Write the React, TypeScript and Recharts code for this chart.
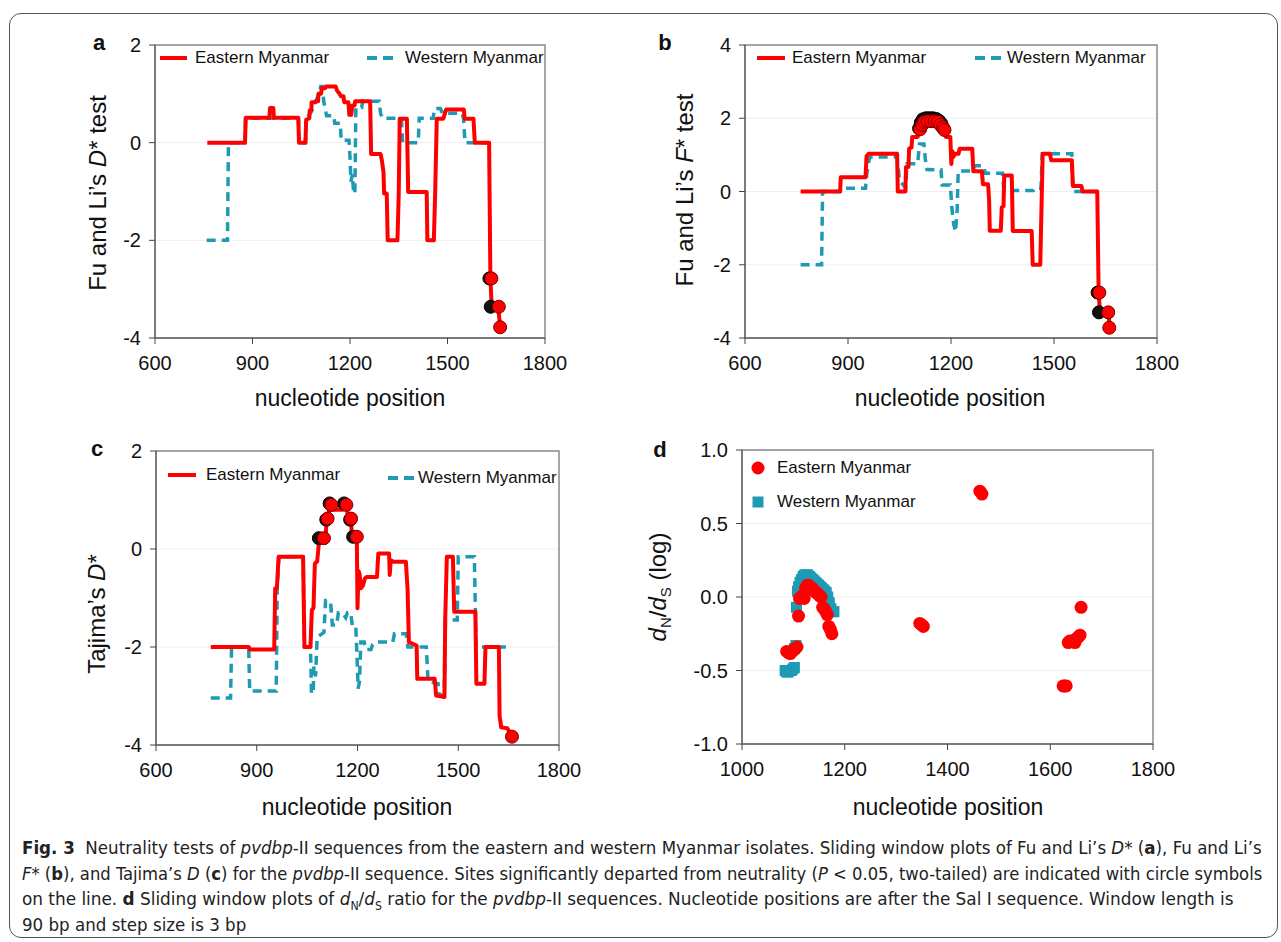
import React, { useLayoutEffect, useRef, useState } from "react";
import {
  CartesianGrid,
  ComposedChart,
  Legend,
  Line,
  ReferenceArea,
  Scatter,
  XAxis,
  YAxis,
} from "recharts";

type Pt = [number, number];

const RED = "#ff0000";
const TEAL = "#1e9bb4";
const FONT = "'Liberation Sans', Arial, sans-serif";

const seriesNames = ["Eastern Myanmar", "Western Myanmar"];
const xTicksPos = [600, 900, 1200, 1500, 1800];
const yTicksA = [-4, -2, 0, 2];
const yTicksB = [-4, -2, 0, 2, 4];
const yTicksC = [-4, -2, 0, 2];
const xTicksD = [1000, 1200, 1400, 1600, 1800];
const yTicksD = [-1, -0.5, 0, 0.5, 1];

// panel a: Fu and Li's D*
const aEast: Pt[] = [
  [761, 0], [877, 0], [879, 0.51], [952, 0.51], [954, 0.71], [964, 0.71], [966, 0.51], [1041, 0.51],
  [1043, 0], [1063, 0], [1065, 0.47], [1075, 0.5], [1076, 0.66], [1081, 0.66], [1082, 0.83], [1093, 0.83],
  [1095, 0.85], [1102, 0.85], [1103, 1.0], [1111, 1.0], [1113, 1.12], [1124, 1.12], [1126, 1.15], [1156, 1.15],
  [1160, 1.07], [1168, 1.0], [1172, 0.95], [1180, 0.95], [1182, 0.83], [1195, 0.83], [1198, 0.57], [1201, 0.68],
  [1204, 0.57], [1207, 0.76], [1214, 0.76], [1216, 0.85], [1262, 0.85], [1265, -0.23], [1294, -0.23], [1298, -0.36],
  [1303, -0.6], [1305, -1.04], [1313, -1.04], [1316, -2.0], [1346, -2.0], [1350, -1.04], [1353, 0.49], [1375, 0.49],
  [1379, -1.01], [1436, -1.01], [1438, -2.0], [1458, -2.0], [1462, -1.04], [1467, 0.49], [1487, 0.49], [1492, 0.6],
  [1496, 0.68], [1550, 0.68], [1553, 0.49], [1580, 0.49], [1584, 0], [1628, 0], [1632, -2.78], [1636, -3.36],
  [1656, -3.36], [1662, -3.78],
];
const aWest: Pt[] = [
  [759, -2], [823, -2], [826, 0], [877, 0], [879, 0.5], [1041, 0.5], [1043, 0], [1063, 0], [1065, 0.5],
  [1080, 0.62], [1094, 0.83], [1104, 1.0], [1110, 1.15], [1116, 1.15], [1119, 0.85], [1128, 0.55], [1150, 0.55],
  [1153, 0.4], [1170, 0.4], [1173, 0.05], [1197, 0.05], [1200, -0.3], [1203, -0.8], [1207, -0.65], [1211, -1.0],
  [1215, -1.05], [1218, 0.72], [1236, 0.72], [1239, 0.85], [1290, 0.85], [1294, 0.6], [1300, 0.5], [1358, 0.5],
  [1362, 0], [1410, 0], [1413, 0.5], [1456, 0.5], [1460, 0.7], [1478, 0.7], [1485, 0.6], [1545, 0.6],
  [1549, 0.5], [1554, 0], [1632, 0],
];
const aSigBlack: Pt[] = [[1629, -2.78], [1633, -3.36]];
const aSigRed: Pt[] = [[1635, -2.78], [1658, -3.36], [1662, -3.78]];

// panel b: Fu and Li's F*
const bEast: Pt[] = [
  [762, 0], [877, 0], [879, 0.39], [951, 0.39], [954, 0.96], [960, 1.03], [1043, 1.03], [1045, 0], [1067, 0],
  [1069, 0.67], [1076, 0.67], [1078, 1.17], [1085, 1.2], [1087, 1.49], [1103, 1.49], [1106, 1.63], [1112, 1.63],
  [1116, 1.8], [1122, 1.9], [1165, 1.9], [1172, 1.8], [1180, 1.63], [1185, 1.49], [1198, 1.49], [1201, 0.75],
  [1204, 1.1], [1207, 0.95], [1212, 1.03], [1222, 1.03], [1225, 1.17], [1262, 1.17], [1265, 0.55], [1290, 0.55],
  [1293, 0.2], [1308, 0.2], [1311, -0.25], [1313, -1.07], [1345, -1.07], [1348, -0.43], [1353, -0.4], [1355, 0.44],
  [1377, 0.44], [1380, -1.08], [1435, -1.08], [1438, -2.0], [1460, -2.0], [1463, -0.7], [1467, 1.03], [1488, 1.03],
  [1492, 0.85], [1552, 0.85], [1555, 0.15], [1580, 0.15], [1583, 0], [1626, 0], [1630, -2.76], [1634, -3.3],
  [1659, -3.3], [1662, -3.72],
];
const bWest: Pt[] = [
  [762, -2], [823, -2], [826, 0], [877, 0], [880, 0.09], [951, 0.09], [955, 0.5], [963, 0.94], [1043, 0.94],
  [1050, 0.3], [1068, 0.1], [1072, 0.76], [1103, 0.76], [1108, 1.3], [1121, 1.3], [1125, 0.9], [1130, 0.6],
  [1171, 0.59], [1174, 0.18], [1198, 0.18], [1203, -0.5], [1208, -0.9], [1213, -1.1], [1218, -0.5], [1221, 0.56],
  [1265, 0.56], [1268, 0.7], [1295, 0.7], [1300, 0.5], [1350, 0.5], [1354, 0.03], [1440, 0.03], [1444, 0.09],
  [1462, 0.09], [1466, 1.03], [1552, 1.03], [1555, 0], [1645, 0],
];
const bSigBlack: Pt[] = [
  [1107, 1.72], [1112, 1.88], [1118, 1.97], [1127, 2.0], [1137, 2.0], [1147, 2.0], [1157, 1.98], [1165, 1.93],
  [1172, 1.85], [1178, 1.72], [1627, -2.76], [1631, -3.3],
];
const bSigRed: Pt[] = [
  [1110, 1.7], [1116, 1.82], [1122, 1.9], [1132, 1.92], [1142, 1.92], [1152, 1.92], [1162, 1.9], [1169, 1.82],
  [1176, 1.75], [1181, 1.68], [1632, -2.76], [1658, -3.3], [1661, -3.72],
];

// panel c: Tajima's D
const cEast: Pt[] = [
  [763, -2], [876, -2], [880, -2.05], [952, -2.05], [955, -0.8], [960, -0.8], [965, -0.16], [1038, -0.16],
  [1042, -2], [1060, -2], [1064, -1.25], [1069, -1.2], [1073, -0.3], [1080, -0.25], [1086, 0.2], [1105, 0.22],
  [1108, 0.6], [1113, 0.6], [1116, 0.92], [1123, 0.92], [1126, 0.8], [1155, 0.8], [1158, 0.92], [1167, 0.92],
  [1172, 0.62], [1180, 0.6], [1184, 0.25], [1198, 0.25], [1200, -1.21], [1203, -0.45], [1206, -0.5], [1210, -0.8],
  [1216, -0.75], [1222, -0.6], [1227, -0.57], [1258, -0.57], [1262, -0.09], [1294, -0.09], [1296, -0.53],
  [1299, -0.23], [1308, -0.26], [1344, -0.26], [1349, -0.81], [1353, -1.9], [1376, -1.97], [1378, -2.65],
  [1430, -2.65], [1434, -2.99], [1459, -3.02], [1461, -1.49], [1466, -0.16], [1484, -0.16], [1488, -1.28],
  [1551, -1.28], [1554, -2.75], [1578, -2.75], [1581, -2.0], [1621, -2.0], [1623, -3.4], [1628, -3.64],
  [1646, -3.66], [1660, -3.82],
];
const cWest: Pt[] = [
  [763, -3.04], [822, -3.04], [825, -2], [876, -2], [879, -2.9], [958, -2.9], [961, -0.8], [966, -0.16],
  [1038, -0.16], [1042, -2], [1060, -2], [1063, -2.95], [1068, -2.95], [1070, -2.4], [1075, -2.6], [1080, -1.8],
  [1100, -1.7], [1105, -1.05], [1115, -1.05], [1120, -1.1], [1125, -1.55], [1138, -1.55], [1143, -1.3],
  [1155, -1.3], [1165, -1.4], [1170, -1.3], [1180, -1.3], [1185, -1.6], [1195, -1.6], [1198, -2.1], [1202, -2.85],
  [1206, -2.7], [1210, -1.9], [1220, -1.9], [1225, -2.05], [1240, -2.05], [1245, -1.95], [1255, -1.9],
  [1305, -1.9], [1310, -1.73], [1345, -1.73], [1350, -2.0], [1405, -2.0], [1410, -2.7], [1440, -2.75],
  [1443, -2.98], [1458, -2.98], [1462, -1.45], [1497, -1.45], [1500, -0.16], [1548, -0.16], [1553, -2.0],
  [1645, -2.0],
];
const cSigBlack: Pt[] = [[1085, 0.22], [1107, 0.6], [1117, 0.93], [1160, 0.93], [1178, 0.6], [1187, 0.25]];
const cSigRed: Pt[] = [[1100, 0.22], [1111, 0.62], [1122, 0.9], [1167, 0.9], [1181, 0.62], [1198, 0.25], [1660, -3.83]];

// panel d: dN/dS (log)
const dEast: Pt[] = [
  [1087, -0.37], [1091, -0.38], [1094, -0.385], [1098, -0.37], [1101, -0.36], [1104, -0.35], [1107, -0.34],
  [1110, -0.13], [1112, -0.01], [1115, 0.0], [1118, 0.01], [1121, -0.01], [1124, 0.06], [1127, 0.08],
  [1130, 0.08], [1133, 0.07], [1136, 0.06], [1139, 0.05], [1142, 0.035], [1145, 0.03], [1148, 0.02],
  [1151, 0.01], [1154, 0.0], [1157, -0.07], [1160, -0.08], [1163, -0.1], [1166, -0.12], [1169, -0.2],
  [1172, -0.22], [1175, -0.25], [1346, -0.18], [1350, -0.19], [1353, -0.2], [1463, 0.72], [1467, 0.7],
  [1625, -0.605], [1628, -0.605], [1631, -0.605], [1635, -0.31], [1638, -0.3], [1641, -0.3], [1645, -0.3],
  [1648, -0.31], [1652, -0.28], [1655, -0.27], [1658, -0.26], [1660, -0.07],
];
const dWest: Pt[] = [
  [1084, -0.5], [1087, -0.51], [1090, -0.51], [1093, -0.5], [1096, -0.5], [1099, -0.49], [1102, -0.48],
  [1102, -0.35], [1105, -0.33], [1106, -0.07], [1108, 0.04], [1110, 0.07], [1113, 0.1], [1116, 0.12],
  [1119, 0.14], [1122, 0.15], [1125, 0.15], [1128, 0.15], [1131, 0.14], [1134, 0.13], [1137, 0.12],
  [1140, 0.11], [1143, 0.1], [1146, 0.09], [1149, 0.08], [1152, 0.07], [1155, 0.06], [1158, 0.05],
  [1161, 0.04], [1164, 0.03], [1167, 0.0], [1170, -0.04], [1173, -0.08], [1176, -0.1], [1179, -0.1],
];

const toRows = (pts: Pt[]) => pts.map(([x, y]) => ({ x, y }));

const tickStyle = { fontSize: 20, fill: "#111", fontFamily: FONT };

const blackDot = (p: any) => <circle cx={p.cx} cy={p.cy} r={6.5} fill="#111" stroke="#000" strokeWidth={1} />;
const redDot = (p: any) => <circle cx={p.cx} cy={p.cy} r={6.5} fill={RED} stroke="#7a0000" strokeWidth={1} />;
const redCircle = (p: any) => <circle cx={p.cx} cy={p.cy} r={6.5} fill={RED} />;
const tealSquare = (p: any) => <rect x={p.cx - 5.5} y={p.cy - 5.5} width={11} height={11} fill={TEAL} />;

type LegendItem = { kind: "line" | "dash" | "circle" | "square"; x1: number; x2: number; y: number; tx: number; label: string };

function legendContent(items: LegendItem[], ox: number, oy: number, W: number, H: number) {
  return () => (
    <div style={{ position: "relative", width: W, height: H, fontFamily: FONT }}>
      <svg width={W} height={H} style={{ position: "absolute", left: 0, top: 0 }}>
        {items.map((it, i) =>
          it.kind === "line" ? (
            <line key={i} x1={it.x1 - ox} x2={it.x2 - ox} y1={it.y - oy} y2={it.y - oy} stroke={RED} strokeWidth={4} />
          ) : it.kind === "dash" ? (
            <line key={i} x1={it.x1 - ox} x2={it.x2 - ox} y1={it.y - oy} y2={it.y - oy} stroke={TEAL} strokeWidth={4} strokeDasharray="10 6" />
          ) : it.kind === "circle" ? (
            <circle key={i} cx={(it.x1 + it.x2) / 2 - ox} cy={it.y - oy} r={6.5} fill={RED} />
          ) : (
            <rect key={i} x={(it.x1 + it.x2) / 2 - ox - 5.5} y={it.y - oy - 5.5} width={11} height={11} fill={TEAL} />
          )
        )}
      </svg>
      {items.map((it, i) => (
        <div
          key={"t" + i}
          style={{ position: "absolute", left: it.tx - ox, top: it.y - oy - 11, fontSize: 17, lineHeight: "22px", color: "#111", whiteSpace: "nowrap" }}
        >
          {it.label}
        </div>
      ))}
    </div>
  );
}

type PanelProps = {
  left: number; top: number; plotW: number; plotH: number;
  xDomain: [number, number]; xTicks: number[];
  yDomain: [number, number]; yTicks: number[];
  yFmt?: (v: number) => string;
  lines?: { east: Pt[]; west: Pt[] };
  sigBlack?: Pt[]; sigRed?: Pt[];
  scatter?: { east: Pt[]; west: Pt[] };
  legend: LegendItem[];
};

function Panel(p: PanelProps) {
  const W = 80 + p.plotW + 34;
  const H = 15 + p.plotH + 50;
  const ox = p.left - 80;
  const oy = p.top - 15;
  return (
    <div style={{ position: "absolute", left: ox, top: oy }}>
      <ComposedChart width={W} height={H} margin={{ top: 15, right: 34, bottom: 0, left: 0 }}>
        <CartesianGrid vertical={false} stroke="#efefef" />
        <XAxis
          type="number" dataKey="x" domain={p.xDomain} ticks={p.xTicks} allowDataOverflow
          tick={tickStyle} tickSize={6} tickMargin={12} height={50}
          axisLine={{ stroke: "#6e6e6e", strokeWidth: 1.5 }} tickLine={{ stroke: "#444" }}
        />
        <YAxis
          type="number" domain={p.yDomain} ticks={p.yTicks} allowDataOverflow width={80}
          tick={tickStyle} tickSize={6} tickMargin={8} tickFormatter={p.yFmt}
          axisLine={{ stroke: "#6e6e6e", strokeWidth: 1.5 }} tickLine={{ stroke: "#444" }}
        />
        <ReferenceArea
          x1={p.xDomain[0]} x2={p.xDomain[1]} y1={p.yDomain[0]} y2={p.yDomain[1]}
          fill="none" stroke="#8a8a8a" strokeWidth={1.5} fillOpacity={0}
        />
        {p.lines && (
          <Line
            name={seriesNames[1]} data={toRows(p.lines.west)} dataKey="y" type="linear" stroke={TEAL}
            strokeWidth={3.5} strokeDasharray="9 6" dot={false} isAnimationActive={false}
          />
        )}
        {p.lines && (
          <Line
            name={seriesNames[0]} data={toRows(p.lines.east)} dataKey="y" type="linear" stroke={RED}
            strokeWidth={4} strokeLinejoin="round" dot={false} isAnimationActive={false}
          />
        )}
        {p.sigBlack && <Scatter data={toRows(p.sigBlack)} dataKey="y" shape={blackDot} isAnimationActive={false} />}
        {p.sigRed && <Scatter data={toRows(p.sigRed)} dataKey="y" shape={redDot} isAnimationActive={false} />}
        {p.scatter && (
          <Scatter name={seriesNames[1]} data={toRows(p.scatter.west)} dataKey="y" shape={tealSquare} isAnimationActive={false} />
        )}
        {p.scatter && (
          <Scatter name={seriesNames[0]} data={toRows(p.scatter.east)} dataKey="y" shape={redCircle} isAnimationActive={false} />
        )}
        <Legend
          layout="horizontal" verticalAlign="middle" align="center"
          wrapperStyle={{ left: 0, top: 0, width: W, height: H, pointerEvents: "none" }}
          content={legendContent(p.legend, ox, oy, W, H)}
        />
      </ComposedChart>
    </div>
  );
}

const abs = (left: number, top: number): React.CSSProperties => ({ position: "absolute", left, top });

function YTitle({ cx, cy, children }: { cx: number; cy: number; children: React.ReactNode }) {
  return (
    <div
      style={{
        ...abs(cx, cy), transform: "translate(-50%, -50%) rotate(-90deg)", fontSize: 24,
        fontFamily: FONT, whiteSpace: "nowrap", color: "#111", lineHeight: "28px",
      }}
    >
      {children}
    </div>
  );
}

function XTitle({ cx, cy }: { cx: number; cy: number }) {
  return (
    <div
      style={{
        ...abs(cx, cy), transform: "translate(-50%, -50%)", fontSize: 23, fontFamily: FONT,
        whiteSpace: "nowrap", color: "#111", lineHeight: "28px",
      }}
    >
      nucleotide position
    </div>
  );
}

function Letter({ cx, cy, ch }: { cx: number; cy: number; ch: string }) {
  return (
    <div
      style={{
        ...abs(cx, cy), transform: "translate(-50%, -50%)", fontSize: 22, fontWeight: "bold",
        fontFamily: FONT, color: "#111", lineHeight: "24px",
      }}
    >
      {ch}
    </div>
  );
}

// caption lines are squeezed horizontally to the widths of the reference (a condensed face)
const capTops = [835, 861, 886, 912];
const capWidths = [1240, 1240, 1211];

function Caption() {
  const refs = [useRef<HTMLDivElement>(null), useRef<HTMLDivElement>(null), useRef<HTMLDivElement>(null), useRef<HTMLDivElement>(null)];
  const [scales, setScales] = useState([0.7, 0.7, 0.7, 0.7]);
  useLayoutEffect(() => {
    const w = refs.map((r) => (r.current ? r.current.scrollWidth : 1));
    const s0 = capWidths[0] / w[0];
    setScales([s0, capWidths[1] / w[1], capWidths[2] / w[2], s0]);
  }, []);
  const lineStyle = (i: number): React.CSSProperties => ({
    ...abs(22, capTops[i]), whiteSpace: "nowrap", display: "inline-block", fontSize: 18.5, lineHeight: "26px",
    fontFamily: "'DejaVu Sans Condensed', 'Liberation Sans Narrow', 'Liberation Sans', Arial, sans-serif",
    color: "#222", transformOrigin: "0 0", transform: `scaleX(${scales[i]})`,
  });
  const sub: React.CSSProperties = { fontSize: 12, lineHeight: 0 };
  return (
    <>
      <div ref={refs[0]} style={lineStyle(0)}>
        <b>Fig. 3</b>&nbsp; Neutrality tests of <i>pvdbp</i>-II sequences from the eastern and western Myanmar isolates.
        Sliding window plots of Fu and Li’s <i>D</i>* (<b>a</b>), Fu and Li’s
      </div>
      <div ref={refs[1]} style={lineStyle(1)}>
        <i>F</i>* (<b>b</b>), and Tajima’s <i>D</i> (<b>c</b>) for the <i>pvdbp</i>-II sequence. Sites significantly departed
        from neutrality (<i>P</i> &lt; 0.05, two-tailed) are indicated with circle symbols
      </div>
      <div ref={refs[2]} style={lineStyle(2)}>
        on the line. <b>d</b> Sliding window plots of <i>d</i><sub style={sub}>N</sub>/<i>d</i><sub style={sub}>S</sub> ratio
        for the <i>pvdbp</i>-II sequences. Nucleotide positions are after the Sal I sequence. Window length is
      </div>
      <div ref={refs[3]} style={lineStyle(3)}>
        90 bp and step size is 3 bp
      </div>
    </>
  );
}

export default function App() {
  return (
    <div style={{ position: "absolute", left: 0, top: 0, width: 1281, height: 942, background: "#fff", overflow: "hidden" }}>
      <div
        style={{
          ...abs(9, 13), width: 1269, height: 925, border: "1px solid #555", borderRadius: 12, boxSizing: "border-box",
        }}
      />

      <Panel
        left={155} top={45} plotW={390} plotH={293}
        xDomain={[600, 1800]} xTicks={xTicksPos} yDomain={[-4, 2]} yTicks={yTicksA}
        lines={{ east: aEast, west: aWest }} sigBlack={aSigBlack} sigRed={aSigRed}
        legend={[
          { kind: "line", x1: 160, x2: 187, y: 58, tx: 195, label: seriesNames[0] },
          { kind: "dash", x1: 367, x2: 397, y: 58, tx: 405, label: seriesNames[1] },
        ]}
      />
      <Panel
        left={745} top={45} plotW={412} plotH={293}
        xDomain={[600, 1800]} xTicks={xTicksPos} yDomain={[-4, 4]} yTicks={yTicksB}
        lines={{ east: bEast, west: bWest }} sigBlack={bSigBlack} sigRed={bSigRed}
        legend={[
          { kind: "line", x1: 757, x2: 785, y: 58, tx: 792, label: seriesNames[0] },
          { kind: "dash", x1: 975, x2: 1006, y: 58, tx: 1007, label: seriesNames[1] },
        ]}
      />
      <Panel
        left={156} top={451} plotW={403} plotH={294}
        xDomain={[600, 1800]} xTicks={xTicksPos} yDomain={[-4, 2]} yTicks={yTicksC}
        lines={{ east: cEast, west: cWest }} sigBlack={cSigBlack} sigRed={cSigRed}
        legend={[
          { kind: "line", x1: 168, x2: 196, y: 475, tx: 206, label: seriesNames[0] },
          { kind: "dash", x1: 388, x2: 415, y: 478, tx: 418, label: seriesNames[1] },
        ]}
      />
      <Panel
        left={742} top={450} plotW={411} plotH={294}
        xDomain={[1000, 1800]} xTicks={xTicksD} yDomain={[-1, 1]} yTicks={yTicksD}
        yFmt={(v: number) => v.toFixed(1)}
        scatter={{ east: dEast, west: dWest }}
        legend={[
          { kind: "circle", x1: 752, x2: 764, y: 468, tx: 777, label: seriesNames[0] },
          { kind: "square", x1: 752, x2: 764, y: 502, tx: 777, label: seriesNames[1] },
        ]}
      />

      <Letter cx={99} cy={43} ch="a" />
      <Letter cx={665} cy={43} ch="b" />
      <Letter cx={97} cy={449} ch="c" />
      <Letter cx={660} cy={450} ch="d" />

      <YTitle cx={98} cy={193}>Fu and Li’s <i>D</i>* test</YTitle>
      <YTitle cx={685} cy={190}>Fu and Li’s <i>F</i>* test</YTitle>
      <YTitle cx={97} cy={614}>Tajima’s <i>D</i>*</YTitle>
      <YTitle cx={662} cy={587}>
        <i>d</i><sub style={{ fontSize: 15 }}>N</sub>/<i>d</i><sub style={{ fontSize: 15 }}>S</sub> (log)
      </YTitle>

      <XTitle cx={350} cy={398} />
      <XTitle cx={950} cy={398} />
      <XTitle cx={357} cy={807} />
      <XTitle cx={948} cy={807} />

      <Caption />
    </div>
  );
}
